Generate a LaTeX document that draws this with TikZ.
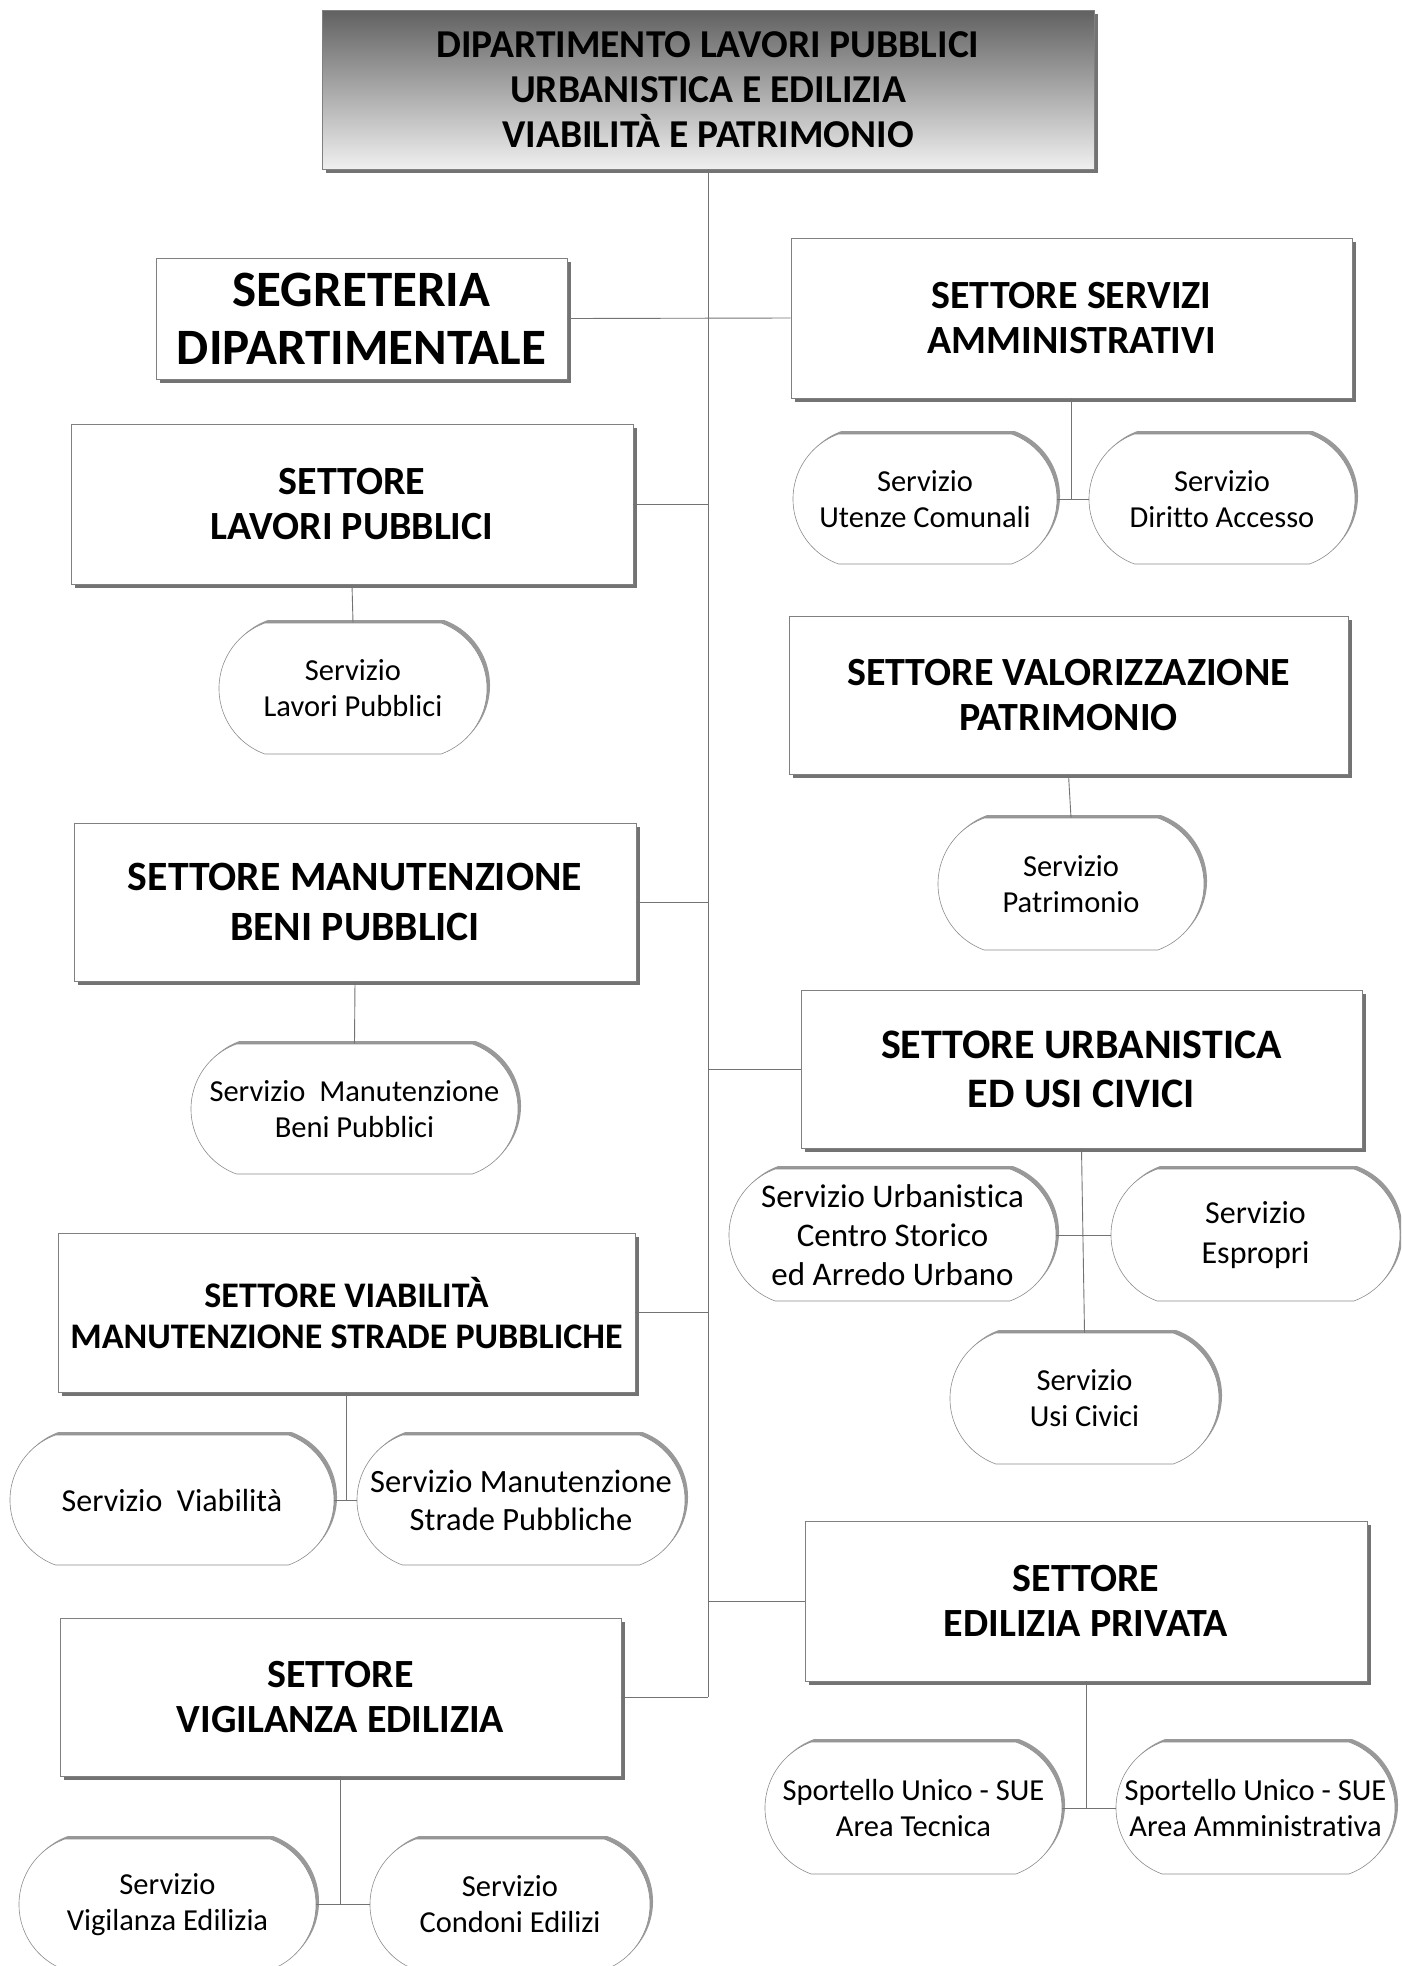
\documentclass[tikz,border=0pt]{standalone}
\usepackage{fontspec}
\setmainfont{Carlito}[Ligatures=NoCommon]
\usetikzlibrary{shapes.misc,shadows}
\tikzset{
  sett/.style={rectangle, draw=black!50, line width=0.8pt, fill=white, inner sep=0pt, align=center,
    drop shadow={shadow xshift=4pt, shadow yshift=-4pt, fill=black!55, opacity=1}},
  serv/.style={rounded rectangle, rounded rectangle arc length=140, draw=black!45, line width=0.6pt,
    fill=white, inner sep=0pt,
    drop shadow={shadow xshift=3pt, shadow yshift=3pt, fill=black!40, opacity=1}},
  stxt/.style={align=center, inner sep=0pt, font=\fontsize{30.5}{36}\selectfont},
  btxt/.style={font=\bfseries\fontsize{40}{45}\selectfont},
  link/.style={draw=black!55, line width=0.9pt}
}
\begin{document}
\begin{tikzpicture}[x=1pt,y=-1pt]
\useasboundingbox (0,0) rectangle (1401,1966);
\clip (0,0) rectangle (1401,1966);
% top box
\node[sett, top color=black!62, bottom color=black!6, minimum width=772, minimum height=159, font=\bfseries\fontsize{39.5}{45}\selectfont] (top) at (708,89.5)
  {DIPARTIMENTO LAVORI PUBBLICI\\URBANISTICA E EDILIZIA\\VIABILITÀ E PATRIMONIO};
% settori
\node[sett, minimum width=411, minimum height=121, font=\bfseries\fontsize{51}{58}\selectfont] (seg) at (361.5,318.5) {SEGRETERIA\\DIPARTIMENTALE};
\node[sett, btxt, minimum width=561, minimum height=160] (ssa) at (1071.5,318) {SETTORE SERVIZI\\AMMINISTRATIVI};
\node[sett, btxt, minimum width=562, minimum height=160] (lp) at (352,504) {SETTORE\\LAVORI PUBBLICI};
\node[sett, btxt, minimum width=559, minimum height=158] (val) at (1068.5,695) {SETTORE VALORIZZAZIONE\\PATRIMONIO};
\node[sett, minimum width=562, minimum height=158, font=\bfseries\fontsize{41.7}{50}\selectfont] (mb) at (355,902) {SETTORE MANUTENZIONE\\BENI PUBBLICI};
\node[sett, minimum width=561, minimum height=158, font=\bfseries\fontsize{42}{49}\selectfont] (urb) at (1081.5,1069) {SETTORE URBANISTICA\\ED USI CIVICI};
\node[sett, minimum width=577, minimum height=159, font=\bfseries\fontsize{36}{41}\selectfont] (via) at (346.5,1312.5) {SETTORE VIABILITÀ\\MANUTENZIONE STRADE PUBBLICHE};
\node[sett, btxt, minimum width=562, minimum height=160] (edi) at (1086,1601) {SETTORE\\EDILIZIA PRIVATA};
\node[sett, btxt, minimum width=561, minimum height=158] (vig) at (340.5,1697) {SETTORE\\VIGILANZA EDILIZIA};
% servizi
\node[serv, minimum width=264, minimum height=130] (sut) at (925,499) {};
\node[serv, minimum width=266, minimum height=130] (sda) at (1222,499) {};
\node[serv, minimum width=268, minimum height=131] (slp) at (353,688.5) {};
\node[serv, minimum width=266, minimum height=132] (spa) at (1071,884) {};
\node[serv, minimum width=327, minimum height=130] (smb) at (354.5,1109) {};
\node[serv, minimum width=327, minimum height=132] (suc) at (892.5,1235) {};
\node[serv, minimum width=289, minimum height=132] (ses) at (1255.5,1235) {};
\node[serv, minimum width=269, minimum height=131] (sci) at (1084.5,1398.5) {};
\node[serv, minimum width=324, minimum height=130] (svi) at (172,1500) {};
\node[serv, minimum width=328, minimum height=130] (sms) at (521,1500) {};
\node[serv, minimum width=297, minimum height=132] (ste) at (913.5,1808) {};
\node[serv, minimum width=279, minimum height=132] (sam) at (1255.5,1808) {};
\node[serv, minimum width=297, minimum height=131] (sve) at (167.5,1904.5) {};
\node[serv, minimum width=280, minimum height=131] (sco) at (510,1904.5) {};
% service texts
\node[stxt] (tsut) at (sut) {Servizio\\Utenze Comunali};
\node[stxt] (tsda) at (sda) {Servizio\\Diritto Accesso};
\node[stxt] (tslp) at (slp) {Servizio\\Lavori Pubblici};
\node[stxt] (tspa) at (spa) {Servizio\\Patrimonio};
\node[stxt] (tsmb) at (smb) {Servizio\ \ Manutenzione\\Beni Pubblici};
\node[stxt, font=\fontsize{33}{39}\selectfont] (tsuc) at (suc) {Servizio Urbanistica\\Centro Storico\\ed Arredo Urbano};
\node[stxt, font=\fontsize{32}{40}\selectfont] (tses) at (ses) {Servizio\\Espropri};
\node[stxt] (tsci) at (sci) {Servizio\\Usi Civici};
\node[stxt, font=\fontsize{32}{38}\selectfont] (tsvi) at (svi) {Servizio\ \ Viabilità};
\node[stxt, font=\fontsize{32.5}{38}\selectfont] (tsms) at (sms) {Servizio Manutenzione\\Strade Pubbliche};
\node[stxt] (tste) at (ste) {Sportello Unico - SUE\\Area Tecnica};
\node[stxt] (tsam) at (sam) {Sportello Unico - SUE\\Area Amministrativa};
\node[stxt] (tsve) at (sve) {Servizio\\Vigilanza Edilizia};
\node[stxt] (tsco) at (sco) {Servizio\\Condoni Edilizi};
% trunk
\coordinate (trunkend) at (top.south |- vig.east);
\draw[link] (top.south) -- (trunkend);
\draw[link] (seg.east) -- (ssa.west);
\draw[link] (lp.east) -- (lp.east -| top.south);
\draw[link] (mb.east) -- (mb.east -| top.south);
\draw[link] (urb.west) -- (urb.west -| top.south);
\draw[link] (via.east) -- (via.east -| top.south);
\draw[link] (edi.west) -- (edi.west -| top.south);
\draw[link] (vig.east) -- (trunkend);
% sub-links
\draw[link] (ssa.south) -- (ssa.south |- sut.east);
\draw[link] (sut.east) -- (sda.west);
\draw[link] (lp.south) -- (slp.north);
\draw[link] (val.south) -- (spa.north);
\draw[link] (mb.south) -- (smb.north);
\draw[link] (urb.south) -- (sci.north);
\draw[link] (suc.east) -- (ses.west);
\draw[link] (via.south) -- (via.south |- svi.east);
\draw[link] (svi.east) -- (sms.west);
\draw[link] (edi.south) -- (edi.south |- ste.east);
\draw[link] (ste.east) -- (sam.west);
\draw[link] (vig.south) -- (vig.south |- sve.east);
\draw[link] (sve.east) -- (sco.west);
\end{tikzpicture}
\end{document}
